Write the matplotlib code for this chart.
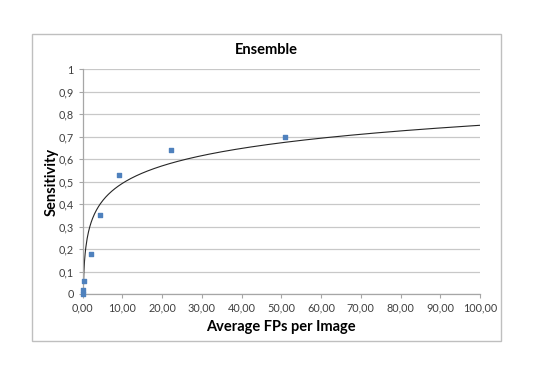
import numpy as np
import matplotlib
matplotlib.use("Agg")
import matplotlib.pyplot as plt
from matplotlib.patches import Rectangle

# Data
fps = [0.0, 0.05, 0.4, 2.2, 4.4, 9.1, 22.1, 50.9]
sens = [0.0, 0.02, 0.06, 0.18, 0.35, 0.53, 0.64, 0.70]
# Logarithmic trendline y = a*ln(x) + b
trend_a = 0.112
trend_b = 0.234

xticks = [0, 10, 20, 30, 40, 50, 60, 70, 80, 90, 100]
xticklabels = ["0,00", "10,00", "20,00", "30,00", "40,00", "50,00", "60,00", "70,00", "80,00", "90,00", "100,00"]
yticks = [0, 0.1, 0.2, 0.3, 0.4, 0.5, 0.6, 0.7, 0.8, 0.9, 1.0]
yticklabels = ["0", "0,1", "0,2", "0,3", "0,4", "0,5", "0,6", "0,7", "0,8", "0,9", "1"]

plt.rcParams['font.family'] = ['Lato', 'DejaVu Sans']

W, H = 538, 382
fig = plt.figure(figsize=(W / 100, H / 100), dpi=100)

# outer chart frame
fig.patches.append(Rectangle((32 / W, 1 - 341 / H), (501 - 32) / W, (341 - 34) / H,
                             transform=fig.transFigure, fill=False,
                             edgecolor="#bfbfbf", linewidth=1.0))

ax = fig.add_axes([82.7 / W, 1 - 294 / H, (480 - 82.7) / W, (294 - 69) / H])
ax.set_xlim(0, 100)
ax.set_ylim(0, 1)

ax.set_yticks(yticks)
ax.set_yticklabels(yticklabels)
ax.set_xticks(xticks)
ax.set_xticklabels(xticklabels)
ax.grid(axis='y', color="#c8c8c8", linewidth=0.9)
ax.set_axisbelow(True)
for s in ['top', 'right']:
    ax.spines[s].set_visible(False)
for s in ['left', 'bottom']:
    ax.spines[s].set_color("#a6a6a6")
    ax.spines[s].set_linewidth(0.9)
ax.tick_params(axis='both', colors="#a6a6a6", labelcolor="#404040",
               labelsize=7.8, length=3, width=0.8, direction='out')
ax.tick_params(axis='x', pad=3)

xt = np.linspace(np.exp(-trend_b / trend_a), 100, 600)
ax.plot(xt, trend_a * np.log(xt) + trend_b, color="#262626", linewidth=0.8, clip_on=True)
ax.scatter(fps, sens, marker='s', s=10, color="#4f81bd", zorder=3, clip_on=False)

fig.text(266.5 / W, 1 - 50 / H, "Ensemble", fontsize=10.5, fontweight='bold',
         ha='center', va='center', color="#000000")
ax.set_xlabel("Average FPs per Image", fontsize=10.5, fontweight='bold', labelpad=5)
ax.set_ylabel("Sensitivity", fontsize=10.5, fontweight='bold', labelpad=0)

fig.savefig("out.png", dpi=100)
